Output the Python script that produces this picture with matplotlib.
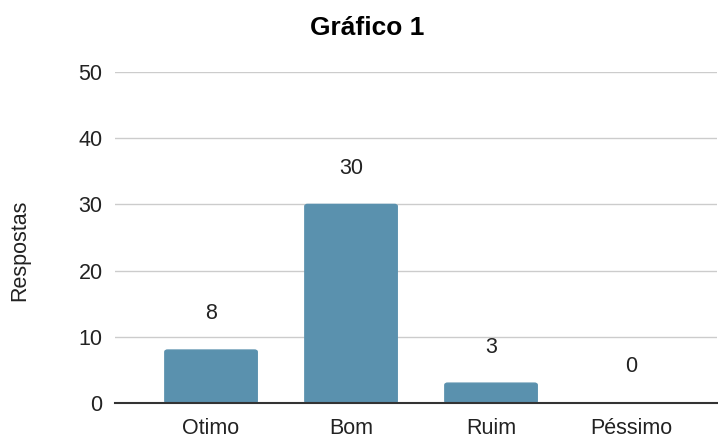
import matplotlib.pyplot as plt
from matplotlib.patches import FancyBboxPatch

categorias = ['Otimo', 'Bom', 'Ruim', 'Péssimo']
respostas = [8, 30, 3, 0]
y_ticks = [0, 10, 20, 30, 40, 50]

plt.rcParams['font.family'] = ['Liberation Sans', 'DejaVu Sans']

fig = plt.figure(figsize=(7.18, 4.36), dpi=100)
ax = fig.add_axes([115 / 718, 1 - 403 / 436, 602 / 718, (403 - 72) / 436])

x = list(range(len(categorias)))
bars = ax.bar(x, respostas, width=0.66, color='#5a91ae', zorder=3)

# cantos levemente arredondados
for b in bars:
    if b.get_height() > 0:
        b.set_visible(False)
        p = FancyBboxPatch((b.get_x(), 0), b.get_width(), b.get_height(),
                           boxstyle='round,pad=0,rounding_size=0.02',
                           mutation_aspect=14, color='#5a91ae', zorder=3)
        ax.add_patch(p)

for xi, v in zip(x, respostas):
    ax.annotate(str(v), (xi, v), xytext=(0, 26), textcoords='offset points',
                ha='center', va='center', fontsize=15.5, color='#222222')

ax.set_xlim(-0.686, 3.614)
ax.set_ylim(0, 50)
ax.set_yticks(y_ticks)
ax.set_xticks(x)
ax.set_xticklabels(categorias)
ax.tick_params(axis='both', length=0, labelsize=15.5, colors='#222222')
ax.tick_params(axis='x', pad=11)
ax.tick_params(axis='y', pad=9)
ax.yaxis.grid(True, color='#cccccc', linewidth=1, zorder=0)
for s in ['top', 'right', 'left']:
    ax.spines[s].set_visible(False)
ax.spines['bottom'].set_color('#333333')
ax.spines['bottom'].set_linewidth(1.5)
ax.spines['bottom'].set_zorder(4)

ax.set_ylabel('Respostas', fontsize=15.5, color='#222222', labelpad=35)
ax.yaxis.label.set_y(0.462)
fig.text(367 / 718, 1 - 28 / 436, 'Gráfico 1', ha='center', va='center',
         fontsize=19, fontweight='bold', color='#000000')

fig.savefig('out.png', dpi=100)
